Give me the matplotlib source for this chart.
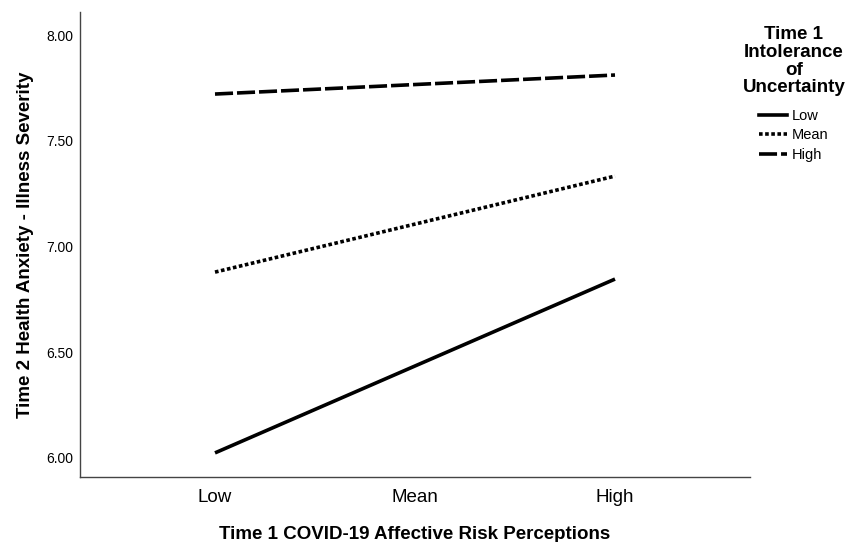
import matplotlib
matplotlib.use('Agg')
from matplotlib import pyplot as plt
from matplotlib.lines import Line2D

plt.rcParams['font.family'] = ['Liberation Sans', 'DejaVu Sans']

# data
x_labels = ["Low", "Mean", "High"]
low_iu = [6.024, 6.435, 6.846]
mean_iu = [6.879, 7.106, 7.333]
high_iu = [7.721, 7.766, 7.811]
y_ticks = [6.0, 6.5, 7.0, 7.5, 8.0]
series_names = ["Low", "Mean", "High"]

dotted = (0, (1, 0.7))
dashed = (0, (5, 1.1))

fig = plt.figure(figsize=(8.5, 5.42), dpi=100)
ax = fig.add_axes([80/850, 1 - 477/542, (750-80)/850, (477-12)/542])

x = range(len(x_labels))
ax.plot(x, low_iu, color="black", lw=2.6, ls="-", solid_capstyle="butt")
ax.plot(x, mean_iu, color="black", lw=2.6, ls=dotted, dash_capstyle="butt")
ax.plot(x, high_iu, color="black", lw=2.6, ls=dashed, dash_capstyle="butt")

ax.set_xlim(-0.675, 2.675)
ax.set_ylim(5.91, 8.109)
ax.set_xticks(list(x))
ax.set_xticklabels(x_labels, fontsize=13.5)
ax.set_yticks(y_ticks)
ax.set_yticklabels([f"{v:.2f}" for v in y_ticks], fontsize=10)
ax.tick_params(axis="x", length=0, pad=9)
ax.tick_params(axis="y", length=0, pad=5)
for s in ["top", "right"]:
    ax.spines[s].set_visible(False)
for s in ["left", "bottom"]:
    ax.spines[s].set_color("#444444")
    ax.spines[s].set_linewidth(1.0)

ax.set_xlabel("Time 1 COVID-19 Affective Risk Perceptions", fontsize=13.5, fontweight="bold", labelpad=14)
ax.set_ylabel("Time 2 Health Anxiety - Illness Severity", fontsize=13.5, fontweight="bold", labelpad=9)

handles = [
    Line2D([], [], color="black", lw=2.6, ls="-"),
    Line2D([], [], color="black", lw=2.6, ls=dotted),
    Line2D([], [], color="black", lw=2.6, ls=dashed),
]
leg = fig.legend(handles, series_names, loc="upper center",
                 bbox_to_anchor=(794/850, 1 - 19/542), frameon=False,
                 title="Time 1\nIntolerance\nof\nUncertainty",
                 title_fontproperties={"weight": "bold", "size": 13.5},
                 fontsize=10.5, handlelength=1.9, handletextpad=0.35,
                 labelspacing=0.38, borderpad=0)
leg._legend_box.align = "center"
leg._legend_box.sep = 9
leg.get_title().set_multialignment("center")
leg.get_title().set_linespacing(1.05)

plt.savefig("out.png", dpi=100)
